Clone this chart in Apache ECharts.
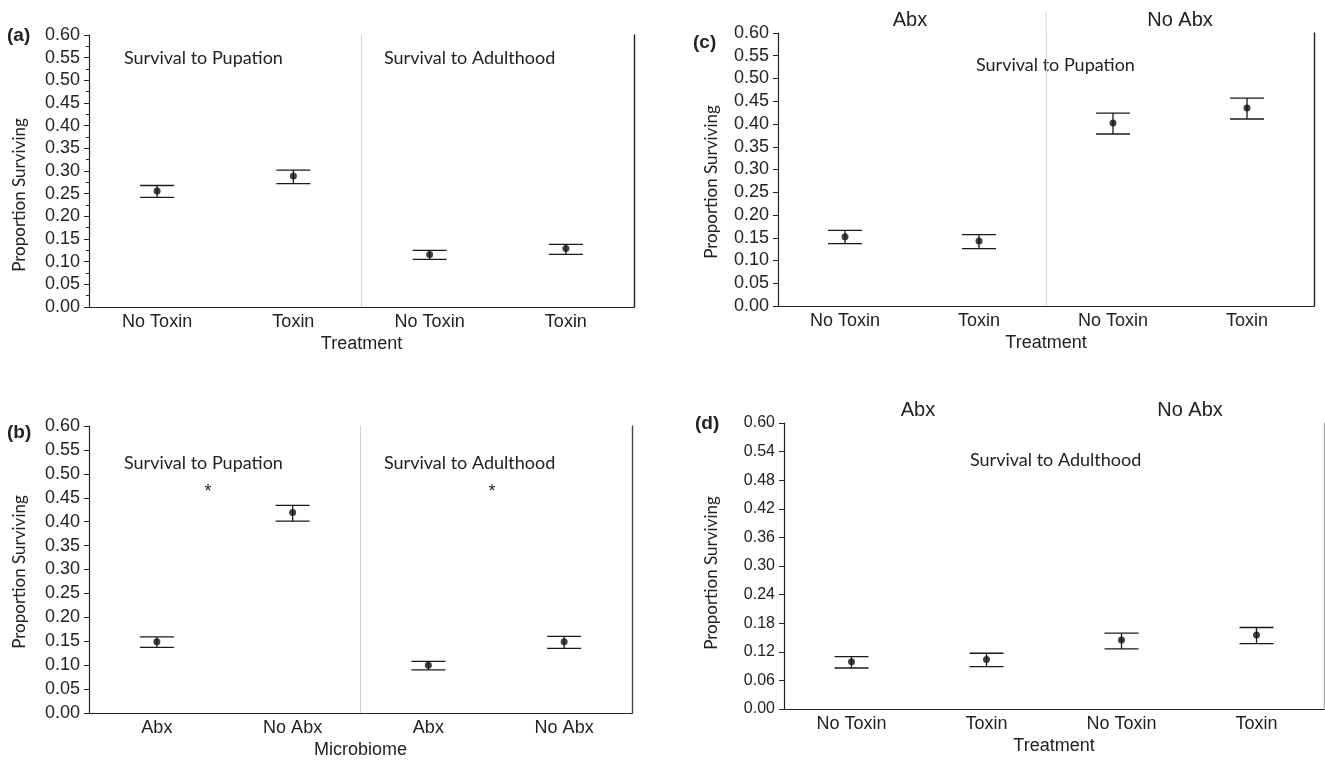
<!DOCTYPE html>
<html>
<head>
<meta charset="utf-8">
<script src="https://cdn.jsdelivr.net/npm/echarts@6/dist/echarts.min.js"></script>
<style>
html,body{margin:0;padding:0;background:#fff;}
#chart{width:1325px;height:760px;}
</style>
</head>
<body>
<div id="chart"></div>
<script>
// ---- Data ----
const catsA = ['No Toxin', 'Toxin', 'No Toxin', 'Toxin'];
const meanA = [0.256, 0.289, 0.116, 0.129];
const lowA  = [0.242, 0.272, 0.105, 0.116];
const highA = [0.268, 0.302, 0.125, 0.138];

const catsB = ['Abx', 'No Abx', 'Abx', 'No Abx'];
const meanB = [0.149, 0.419, 0.100, 0.149];
const lowB  = [0.137, 0.401, 0.090, 0.135];
const highB = [0.159, 0.434, 0.108, 0.160];

const catsC = ['No Toxin', 'Toxin', 'No Toxin', 'Toxin'];
const meanC = [0.152, 0.143, 0.402, 0.435];
const lowC  = [0.137, 0.126, 0.378, 0.411];
const highC = [0.166, 0.157, 0.424, 0.457];

const catsD = ['No Toxin', 'Toxin', 'No Toxin', 'Toxin'];
const meanD = [0.099, 0.104, 0.145, 0.155];
const lowD  = [0.086, 0.089, 0.126, 0.137];
const highD = [0.110, 0.117, 0.159, 0.171];

const yTicksABC = { min: 0, max: 0.6, interval: 0.05 };
const yTicksD = { min: 0, max: 0.6, interval: 0.06 };

// ---- Build ----
const TEXT = '#222';
const LABEL_FONT = '"Liberation Sans", Arial, sans-serif';
const ANNOT_FONT = 'Lato, "Open Sans", sans-serif';

const panels = [
  { cats: catsA, mean: meanA, low: lowA, high: highA, ticks: yTicksABC, xName: 'Treatment',
    grid: { left: 89, right: 691, top: 35, bottom: 453 }, yLabelSize: 18, minor: true,
    divider: true, borderColor: '#222' },
  { cats: catsB, mean: meanB, low: lowB, high: highB, ticks: yTicksABC, xName: 'Microbiome',
    grid: { left: 89, right: 693, top: 426, bottom: 43 }, yLabelSize: 18, minor: false,
    divider: true, borderColor: '#444' },
  { cats: catsC, mean: meanC, low: lowC, high: highC, ticks: yTicksABC, xName: 'Treatment',
    grid: { left: 778, right: 11, top: 33, bottom: 454 }, yLabelSize: 18, minor: false,
    divider: true, borderColor: '#222' },
  { cats: catsD, mean: meanD, low: lowD, high: highD, ticks: yTicksD, xName: 'Treatment',
    grid: { left: 784, right: 1, top: 423, bottom: 51 }, yLabelSize: 16, minor: false,
    divider: false, borderColor: '#aaa' }
];

const grids = [], xAxes = [], yAxes = [], series = [];

panels.forEach((p, i) => {
  grids.push(Object.assign({ containLabel: false }, p.grid));
  // category axis
  xAxes.push({
    type: 'category', gridIndex: i, data: p.cats, boundaryGap: true,
    axisLine: { show: true, lineStyle: { color: '#222', width: 1.2 } },
    axisTick: { show: false },
    axisLabel: { interval: 0, fontSize: 18, color: TEXT, fontFamily: LABEL_FONT, margin: 6 },
    name: p.xName, nameLocation: 'middle', nameGap: 28,
    nameTextStyle: { fontSize: 18, color: TEXT, fontFamily: LABEL_FONT },
    splitLine: { show: false }
  });
  // hidden value axis for the vertical group divider
  xAxes.push({
    type: 'value', gridIndex: i, min: 0, max: 4, interval: 2, position: 'top',
    axisLine: { show: false }, axisTick: { show: false }, axisLabel: { show: false },
    splitLine: { show: p.divider, lineStyle: { color: '#d4d4d4', width: 1 } }
  });
  // left value axis
  yAxes.push({
    type: 'value', gridIndex: i, min: p.ticks.min, max: p.ticks.max, interval: p.ticks.interval,
    axisLine: { show: true, lineStyle: { color: '#222', width: 1.2 } },
    axisTick: { show: true, length: 5, lineStyle: { color: '#222' } },
    minorTick: { show: p.minor, splitNumber: 2, length: 3, lineStyle: { color: '#222' } },
    axisLabel: { fontSize: p.yLabelSize, color: TEXT, fontFamily: LABEL_FONT, margin: 9,
      formatter: v => v.toFixed(2) },
    splitLine: { show: false }
  });
  // right border
  yAxes.push({
    type: 'value', gridIndex: i, min: 0, max: 1, position: 'right',
    axisLine: { show: true, lineStyle: { color: p.borderColor, width: 1.4 } },
    axisTick: { show: false }, axisLabel: { show: false }, splitLine: { show: false }
  });

  series.push({
    type: 'custom', xAxisIndex: 2 * i, yAxisIndex: 2 * i,
    data: p.cats.map((c, k) => [k, p.low[k], p.high[k]]),
    encode: { x: 0, y: [1, 2] },
    renderItem: function (params, api) {
      const lo = api.coord([api.value(0), api.value(1)]);
      const hi = api.coord([api.value(0), api.value(2)]);
      const w = 17;
      const st = { stroke: '#1a1a1a', lineWidth: 1.3 };
      return {
        type: 'group',
        children: [
          { type: 'line', shape: { x1: lo[0], y1: lo[1], x2: hi[0], y2: hi[1] }, style: st },
          { type: 'line', shape: { x1: lo[0] - w, y1: lo[1], x2: lo[0] + w, y2: lo[1] }, style: st },
          { type: 'line', shape: { x1: hi[0] - w, y1: hi[1], x2: hi[0] + w, y2: hi[1] }, style: st }
        ]
      };
    },
    silent: true, z: 3
  });
  series.push({
    type: 'scatter', xAxisIndex: 2 * i, yAxisIndex: 2 * i,
    data: p.mean.map((v, k) => [k, v]),
    symbol: 'circle', symbolSize: 7,
    itemStyle: { color: '#111' }, silent: true, z: 4
  });
});

function txt(x, y, text, opts) {
  return {
    type: 'text', x: x, y: y, silent: true,
    style: Object.assign({ text: text, fill: TEXT, font: '18px ' + ANNOT_FONT,
      textAlign: 'left', textVerticalAlign: 'middle' }, opts || {})
  };
}
function vtxt(x, y, text) {
  return {
    type: 'text', x: x, y: y, rotation: Math.PI / 2, silent: true,
    style: { text: text, fill: TEXT, font: '17px ' + ANNOT_FONT, textAlign: 'center', textVerticalAlign: 'middle' }
  };
}
const BOLD = { font: 'bold 19px ' + LABEL_FONT };
const HEAD = { font: '20px ' + LABEL_FONT, textAlign: 'center' };
const STAR = { font: '18px ' + LABEL_FONT, textAlign: 'center' };

const graphics = [
  // panel letters
  txt(7, 36, '(a)', BOLD), txt(7, 433, '(b)', BOLD), txt(693, 43, '(c)', BOLD), txt(695, 424, '(d)', BOLD),
  // y-axis names
  vtxt(20, 195, 'Proportion Surviving'), vtxt(20, 572, 'Proportion Surviving'),
  vtxt(712, 182, 'Proportion Surviving'), vtxt(712, 573, 'Proportion Surviving'),
  // in-panel titles
  txt(124, 58, 'Survival to Pupation'), txt(384, 58, 'Survival to Adulthood'),
  txt(124, 463, 'Survival to Pupation'), txt(384, 463, 'Survival to Adulthood'),
  txt(976, 65, 'Survival to Pupation'), txt(970, 460, 'Survival to Adulthood'),
  // significance marks
  txt(208, 492, '*', STAR), txt(492, 492, '*', STAR),
  // group headers
  txt(910, 20, 'Abx', HEAD), txt(1180, 20, 'No Abx', HEAD),
  txt(918, 410, 'Abx', HEAD), txt(1190, 410, 'No Abx', HEAD),
  // divider extension above panel (c)
  { type: 'line', silent: true, shape: { x1: 1046, y1: 12, x2: 1046, y2: 33 }, style: { stroke: '#d4d4d4', lineWidth: 1 } }
];

const chart = echarts.init(document.getElementById('chart'), null, { renderer: 'canvas' });
chart.setOption({
  backgroundColor: '#fff',
  animation: false,
  grid: grids, xAxis: xAxes, yAxis: yAxes, series: series,
  graphic: graphics
});
</script>
</body>
</html>
